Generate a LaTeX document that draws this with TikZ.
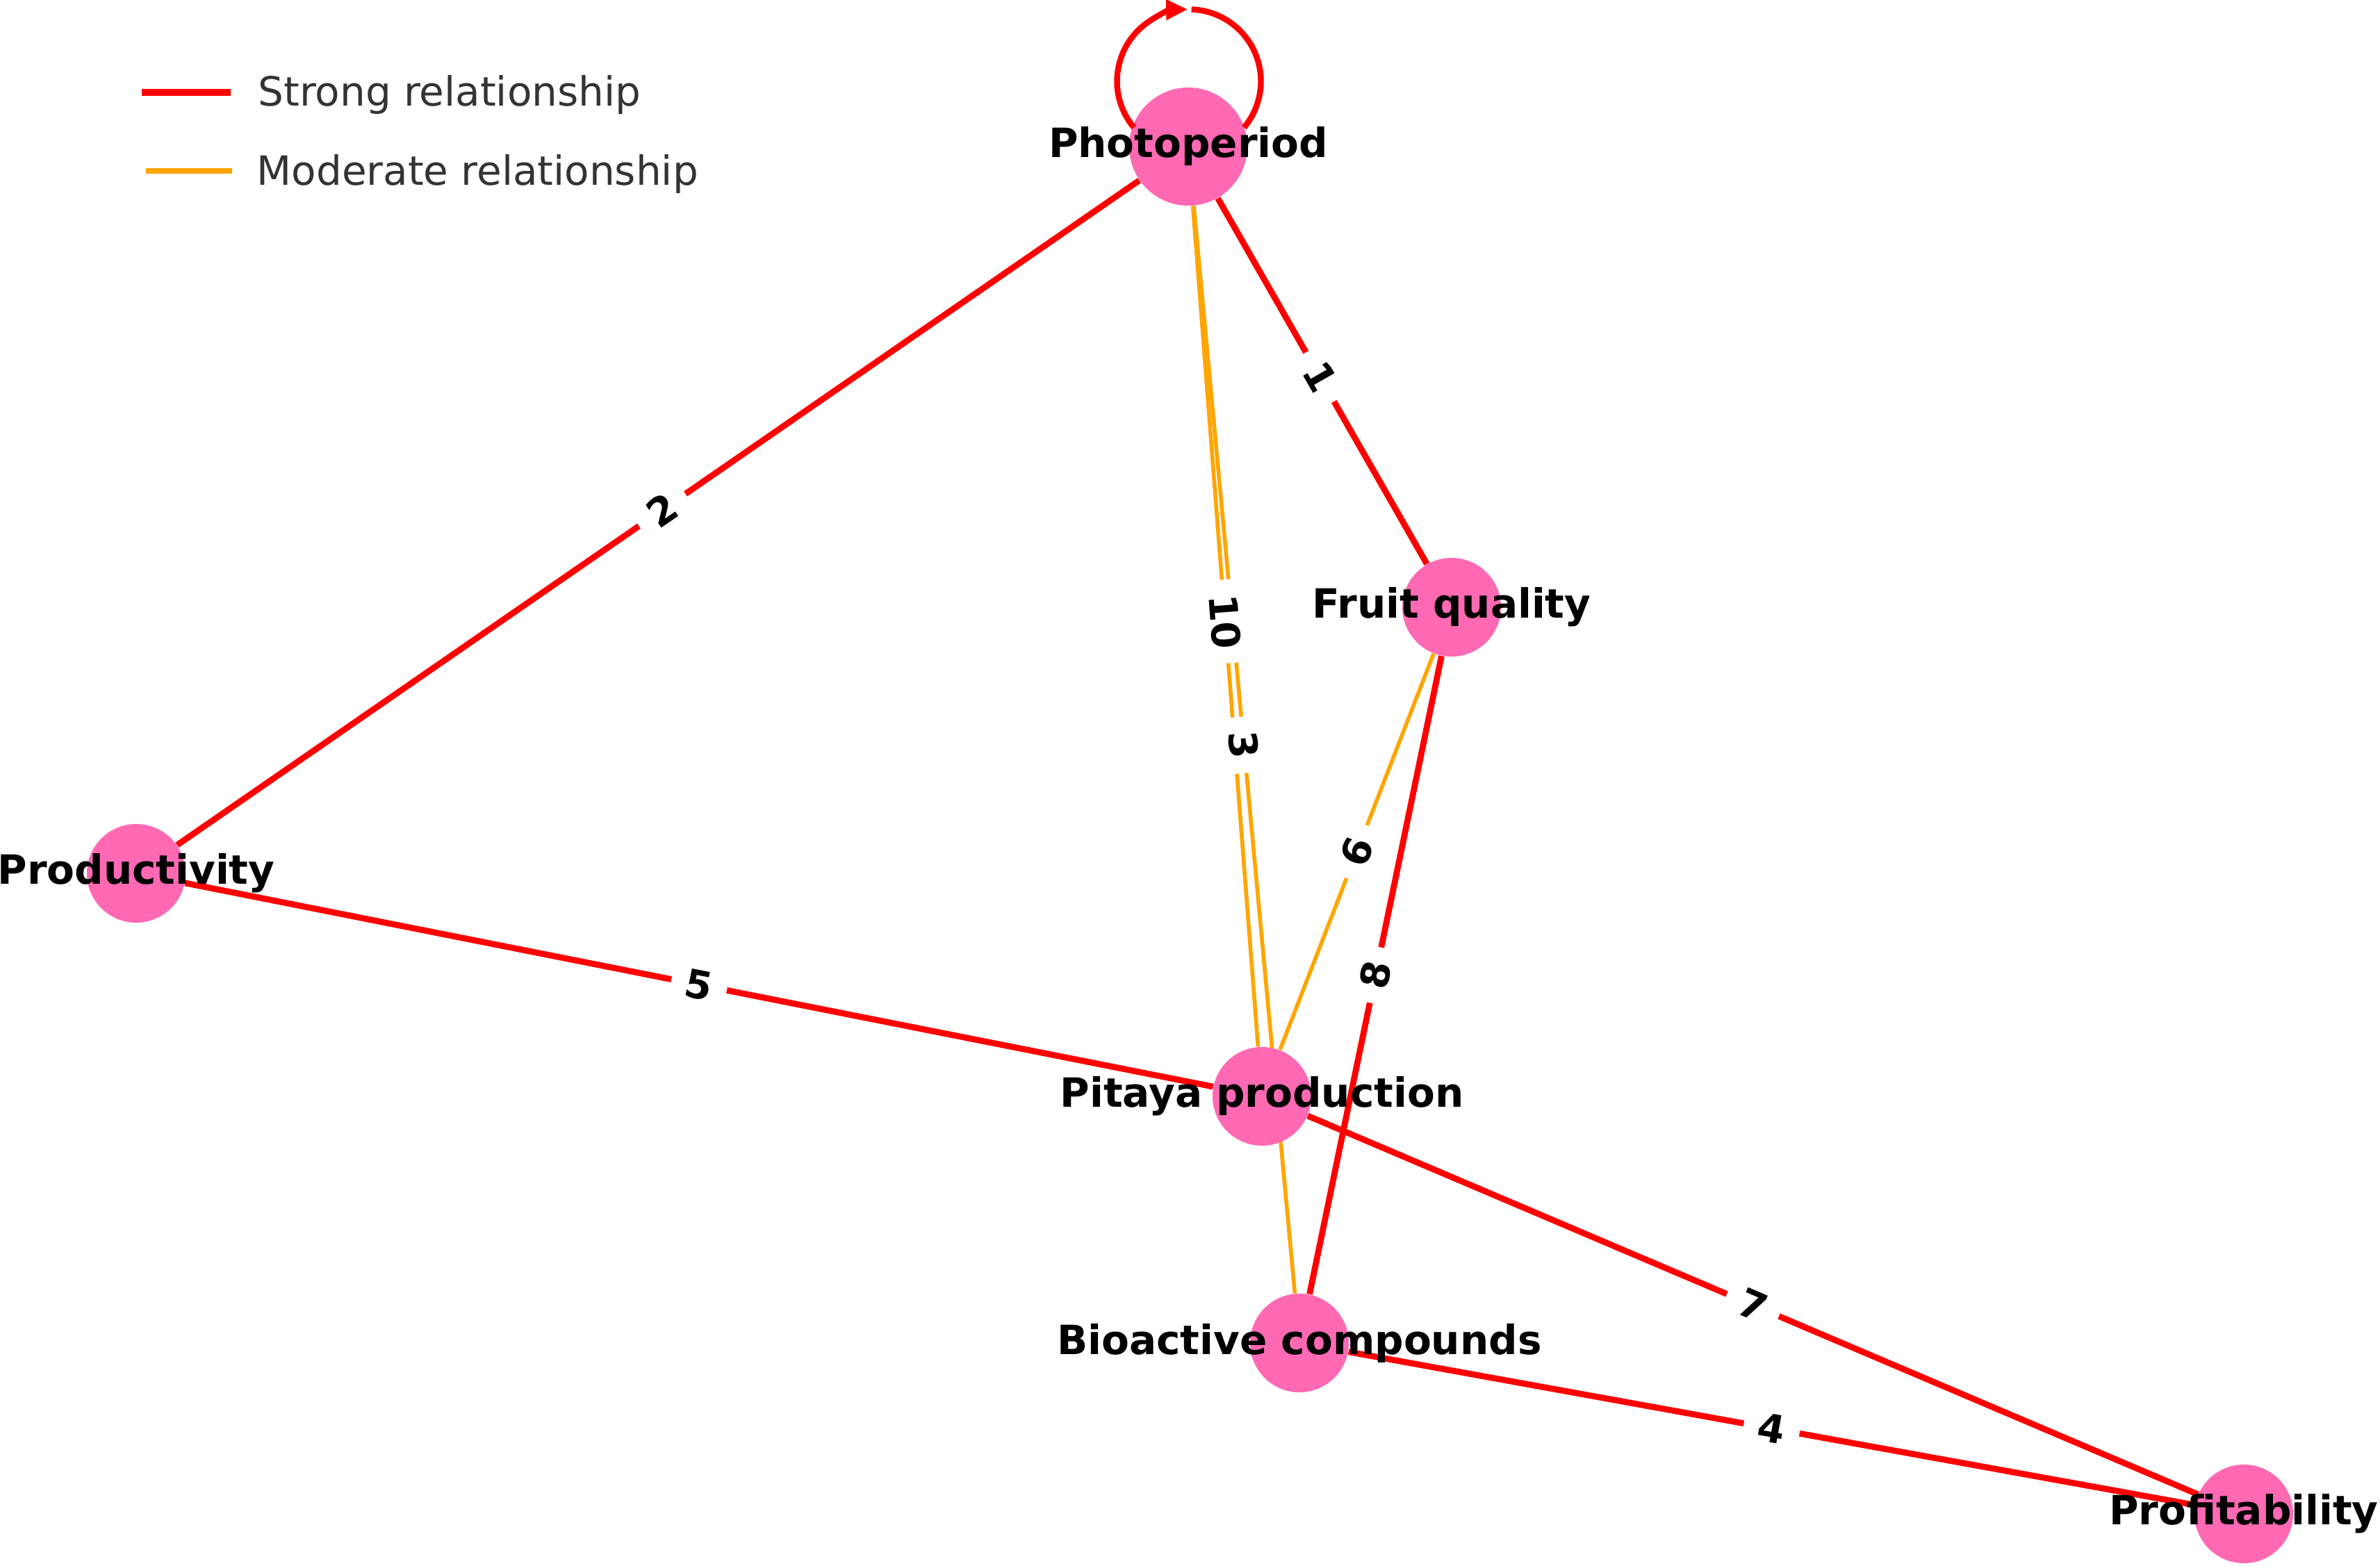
\documentclass[tikz,border=0pt]{standalone}
\usepackage{fontspec}
\setmainfont{DejaVu Sans}
\usepackage{xcolor}
\usetikzlibrary{arrows.meta,backgrounds}
\definecolor{nodepink}{HTML}{FF69B4}
\definecolor{strongred}{HTML}{FF0000}
\definecolor{modorange}{HTML}{FFA500}
\definecolor{legendgray}{HTML}{333333}

\begin{document}
\begin{tikzpicture}[
	vertex/.style={circle, fill=nodepink, minimum size=1.42cm, inner sep=0pt},
	bigvertex/.style={vertex, minimum size=1.70cm},
	vlabel/.style={font=\fontsize{16.5}{20}\selectfont\bfseries, inner sep=0pt},
	strong/.style={draw=strongred, line width=2.5pt},
	moderate/.style={draw=modorange, line width=1.6pt},
	elabel/.style={font=\fontsize{16}{19}\selectfont\bfseries, fill=white, inner sep=6pt, rounded corners=4pt, sloped, midway},
	legtext/.style={font=\fontsize{16.5}{20}\selectfont, text=legendgray, inner sep=0pt, anchor=base west}
]
	\useasboundingbox (0,0) rectangle (34.25,22.53);
	
	% Nodes
	\node[bigvertex] (photo) at (17.10,20.42) {};
	\node[vertex] (fruit) at (20.89,13.79) {};
	\node[vertex] (prod) at (1.96,9.96) {};
	\node[vertex] (pitaya) at (18.16,6.75) {};
	\node[vertex] (bio) at (18.70,3.20) {};
	\node[vertex] (profit) at (32.29,0.74) {};
	
	% Edges (behind the nodes)
	\begin{scope}[on background layer]
		\foreach \a/\b/\kind in {photo/fruit/strong, photo/prod/strong, photo/pitaya/moderate, photo/bio/moderate, fruit/pitaya/moderate, fruit/bio/strong, prod/pitaya/strong, pitaya/profit/strong, bio/profit/strong}
			\draw[\kind] (\a) -- (\b);
	\end{scope}
	
	% Self loop on Photoperiod
	\draw[strong, line width=2.4pt, -{Triangle[length=3.1mm, width=2.8mm]}] ([shift={(0.01,0.94)}]photo.center) ++(220:1.035) arc[start angle=220, end angle=91, radius=1.035];
	\draw[strong, line width=2.4pt] ([shift={(0.01,0.94)}]photo.center) ++(88:1.035) arc[start angle=88, end angle=-40, radius=1.035];
	
	% Edge labels
	\foreach \a/\b/\num in {photo/fruit/1, photo/prod/2, photo/bio/3, bio/profit/4, prod/pitaya/5, fruit/pitaya/6, pitaya/profit/7, fruit/bio/8, photo/pitaya/10}
		\path (\a.center) -- (\b.center) node[elabel] {\num};
	
	% Node labels on top
	\node[vlabel] (photo-txt) at (photo) {Photoperiod};
	\node[vlabel] (fruit-txt) at (fruit) {Fruit quality};
	\node[vlabel] (prod-txt) at (prod) {Productivity};
	\node[vlabel] (pitaya-txt) at (pitaya) {Pitaya production};
	\node[vlabel] (bio-txt) at (bio) {Bioactive compounds};
	\node[vlabel] (profit-txt) at (profit) {Profitability};
	
	% Legend
	\draw[strongred, line width=2.65pt] (2.04,21.20) -- (3.32,21.20);
	\draw[modorange, line width=2pt] (2.10,20.07) -- (3.34,20.07);
	\node[legtext] (legstrong) at (3.71,21.00) {Strong relationship};
	\node[legtext] (legmod) at (3.69,19.86) {Moderate relationship};
\end{tikzpicture}
\end{document}
